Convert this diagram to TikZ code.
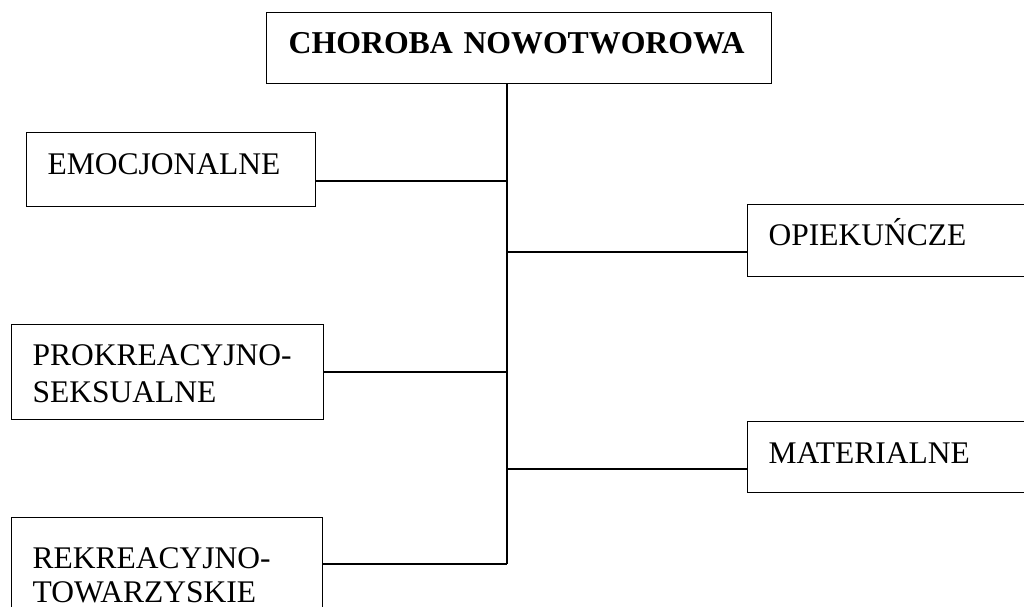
\documentclass[tikz,border=0pt]{standalone}
\usepackage{fontspec}
\setmainfont{Liberation Serif}
\usepackage{tikz}
\usetikzlibrary{arrows,shapes}
\newcommand{\rodz}[1]{\fontsize{31.5bp}{37bp}\selectfont #1}

\begin{document}
\begin{tikzpicture}[x=1bp, y=-1bp, line width=1.2bp]
      \tikzstyle{every node}=[font=\rodz{}]
      \tikzstyle{box}=[draw, anchor=north west, inner ysep=0bp, inner xsep=21bp, align=left]
      %%
  \useasboundingbox (0,0) rectangle (1024,607);
  \node (n_0) at (266,12) [box,inner xsep=22bp,text width=461bp,text height=41bp,text depth=30bp,font=\fontsize{31.8bp}{37bp}\selectfont\bfseries] {CHOROBA NOWOTWOROWA};
  \node (n_1) at (26,132) [box,text width=247bp,text height=42bp,text depth=32bp] {EMOCJONALNE};
  \node (n_2) at (747,204) [box,text width=280bp,text height=41bp,text depth=31bp] {OPIEKUŃCZE};
  \node (n_3) at (11,324) [box,text width=270bp,text height=41bp,text depth=54bp] {PROKREACYJNO-\\SEKSUALNE};
  \node (n_4) at (747,421) [box,text width=280bp,text height=42bp,text depth=29bp] {MATERIALNE};
  \node (n_5) at (11,517) [box,text width=269bp,text height=51bp,text depth=60bp,font=\fontsize{31.5bp}{34bp}\selectfont] {REKREACYJNO-\\TOWARZYSKIE};
  %%
  \coordinate (j_1) at (507,181);
  \coordinate (j_2) at (507,252);
  \coordinate (j_3) at (507,372);
  \coordinate (j_4) at (507,469);
  \coordinate (j_5) at (507,564);
  \draw (n_0.south -| j_1) -- (j_5);
  \draw (n_1.east |- j_1) -- (j_1);
  \draw (j_2) -- (n_2.west |- j_2);
  \draw (n_3.east |- j_3) -- (j_3);
  \draw (j_4) -- (n_4.west |- j_4);
  \draw (n_5.east |- j_5) -- (j_5);
%
\end{tikzpicture}
\end{document}
